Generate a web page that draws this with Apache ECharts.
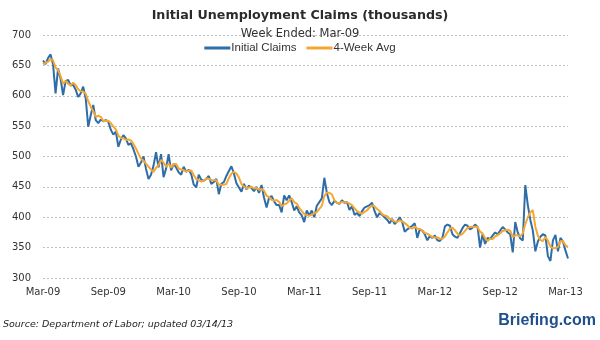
<!DOCTYPE html>
<html>
<head>
<meta charset="utf-8">
<script src="https://cdn.jsdelivr.net/npm/echarts@6/dist/echarts.min.js"></script>
<style>
html,body{margin:0;padding:0;background:#fff;}
#chart{width:600px;height:340px;}
</style>
</head>
<body>
<div id="chart"></div>
<script>
// Tick labels shown on the x axis (every 26 weeks)
var tickLabels = ['Mar-09','Sep-09','Mar-10','Sep-10','Mar-11','Sep-11','Mar-12','Sep-12','Mar-13'];

// Weekly initial claims (thousands), week ended 2009-03-07 .. 2013-03-09
var claims = [
658,652,662,668,652,604,645,628,601,624,626,617,618,610,598,604,615,596,549,568,
585,560,555,561,558,560,557,544,536,541,516,528,535,530,519,522,512,500,483,490,
500,480,463,470,485,507,482,504,466,480,504,477,488,482,474,470,483,475,478,471,
454,449,470,462,460,463,468,455,458,463,438,455,458,468,476,484,472,456,449,442,
455,446,452,448,443,450,440,453,432,416,432,435,426,420,420,408,436,428,436,425,
411,418,408,403,392,411,403,411,400,419,425,431,465,440,425,420,427,424,422,428,
424,425,412,418,404,407,402,410,416,418,420,424,410,400,407,404,400,396,390,397,
389,393,400,392,376,380,383,386,390,366,380,378,372,362,369,366,370,362,361,366,
385,388,386,372,368,366,374,382,388,386,380,383,388,384,350,372,356,366,364,370,
375,372,378,384,380,375,372,342,392,375,365,362,453,420,396,378,344,360,368,372,
370,336,328,362,371,344,366,360,345,332
];

// 4-week moving average (thousands), same weeks
var avg4 = [
652,654,656,660,658.5,646.5,642.3,632.3,619.5,624.5,619.8,617,621.3,617.8,610.8,607.5,606.8,603.3,591,582,
574.5,565.5,567,565.3,558.5,558.5,559,554.8,549.3,544.5,534.3,530.3,530,527.3,528,526.5,520.8,513.3,504.3,496.3,
493.3,488.3,483.3,478.3,474.5,481.3,486,494.5,489.8,483,488.5,481.8,487.3,487.8,480.3,478.5,477.3,475.5,476.5,476.8,
469.5,463,461,458.8,460.3,463.8,463.3,461.5,461,461,453.5,453.5,453.5,454.8,464.3,471.5,475,472,465.3,454.8,
450.5,448,448.8,450.3,447.3,448.3,445.3,446.5,443.8,435.3,433.3,428.8,427.3,428.3,425.3,418.5,421,423,427,431.3,
425,422.5,415.5,410,405.3,403.5,402.3,404.3,406.3,408.3,413.8,418.8,435,440.3,440.3,437.5,428,424,423.3,425.3,
424.5,424.8,422.3,419.8,414.8,410.3,407.8,405.8,408.8,411.5,416,419.5,418,413.5,410.3,405.3,402.8,401.8,397.5,395.8,
393,392.3,394.8,393.5,390.3,387,382.8,381.3,384.8,381.3,380.5,378.5,374,373,370.3,367.3,366.8,366.8,364.8,364.8,
368.5,375,381.3,382.8,378.5,373,370,372.5,377.5,382.5,384,384.3,384.3,383.8,376.3,373.5,365.5,361,364.5,364,
368.8,370.3,373.8,377.3,378.5,379.3,377.8,367.3,370.3,370.3,368.5,373.5,388.8,400,407.8,411.8,384.5,369.5,362.5,361,
367.5,361.5,351.5,349,349.3,351.3,360.8,360.3,353.8,350.8
];

// Week-ending dates as categories
var weeks = [];
(function(){
  var d = new Date(Date.UTC(2009,2,7));
  for (var i = 0; i < claims.length; i++) {
    weeks.push(d.toISOString().slice(0,10));
    d = new Date(d.getTime() + 7*86400000);
  }
})();

var chart = echarts.init(document.getElementById('chart'), null, {renderer:'canvas'});
chart.setOption({
  animation: false,
  backgroundColor: '#ffffff',
  title: [
    {text: 'Initial Unemployment Claims (thousands)', left: 'center', top: 4,
     textStyle: {fontFamily: 'DejaVu Sans', fontWeight: 'bold', fontSize: 12.7, color: '#2b2b2b'}},
    {text: 'Week Ended: Mar-09', left: 'center', top: 23,
     textStyle: {fontFamily: 'DejaVu Sans', fontWeight: 'normal', fontSize: 11.5, color: '#333'}}
  ],
  legend: {
    top: 37, left: 'center',
    itemWidth: 26, itemHeight: 3, itemGap: 10,
    icon: 'rect',
    textStyle: {fontFamily: 'Liberation Sans', fontSize: 11.5, color: '#333', padding: [0,0,0,-4]},
    data: ['Initial Claims', '4-Week Avg']
  },
  grid: {left: 43, right: 32, top: 35, bottom: 62, containLabel: false},
  xAxis: {
    type: 'category',
    data: weeks,
    boundaryGap: false,
    axisLine: {show: false},
    axisTick: {show: false},
    splitLine: {show: false},
    axisLabel: {
      interval: 25,
      margin: 9,
      fontFamily: 'DejaVu Sans', fontSize: 10, color: '#333',
      formatter: function (v, idx) { return tickLabels[Math.round(idx / 26)] || ''; }
    }
  },
  yAxis: {
    type: 'value',
    min: 300, max: 700, interval: 50,
    axisLine: {show: false},
    axisTick: {show: false},
    axisLabel: {fontFamily: 'DejaVu Sans', fontSize: 10, color: '#333', margin: 12},
    splitLine: {lineStyle: {color: '#c0c0c0', type: [2, 2], width: 1}}
  },
  series: [
    {name: 'Initial Claims', type: 'line', data: claims, symbol: 'none',
     lineStyle: {color: '#2f6da6', width: 2}, itemStyle: {color: '#2f6da6'}},
    {name: '4-Week Avg', type: 'line', data: avg4, symbol: 'none',
     lineStyle: {color: '#f5a733', width: 2}, itemStyle: {color: '#f5a733'}}
  ],
  graphic: [
    {type: 'text', left: 3, top: 320,
     style: {text: 'Source: Department of Labor; updated 03/14/13',
             font: 'italic 9.5px "DejaVu Sans"', fill: '#222'}},
    {type: 'text', right: 4, top: 313,
     style: {text: 'Briefing.com', font: 'bold 16px "Liberation Sans"', fill: '#1f4f8c'}}
  ]
});
</script>
</body>
</html>
